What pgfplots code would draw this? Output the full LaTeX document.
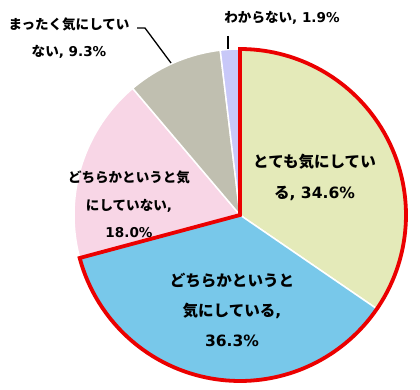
\documentclass[border=0pt]{standalone}
\usepackage{pgfplots}
\pgfplotsset{compat=1.18}
\usepackage{fontspec}
\setmainfont{Noto Sans CJK JP}
\newfontfamily\lat{DejaVu Sans}
\newcommand{\LT}[1]{{\lat\bfseries #1}}
\definecolor{cA}{RGB}{228,234,185}
\definecolor{cB}{RGB}{120,200,234}
\definecolor{cC}{RGB}{248,214,230}
\definecolor{cD}{RGB}{192,191,176}
\definecolor{cE}{RGB}{200,200,248}
\definecolor{redline}{RGB}{235,0,0}
% values (percent)
\def\va{34.6}\def\vb{36.3}\def\vc{18.0}\def\vd{9.3}\def\ve{1.9}
\pgfmathsetmacro\tot{\va+\vb+\vc+\vd+\ve}
\pgfmathsetmacro\aA{90}
\pgfmathsetmacro\aB{90-\va/\tot*360}
\pgfmathsetmacro\aC{90-(\va+\vb)/\tot*360}
\pgfmathsetmacro\aD{90-(\va+\vb+\vc)/\tot*360}
\pgfmathsetmacro\aE{90-(\va+\vb+\vc+\vd)/\tot*360}
\pgfmathsetmacro\aF{90-360}
\def\cx{240}\def\cy{175}\def\rr{166}
\begin{document}
\begin{tikzpicture}
\begin{axis}[
  width=420bp, height=390bp, scale only axis,
  xmin=0, xmax=420, ymin=0, ymax=390,
  hide axis, clip=false, at={(0,0)}, anchor=south west,
]
\addplot[fill=cA, draw=white, line width=1.5bp, domain=\aB:\aA, samples=80, variable=\t]
  ({\cx+\rr*cos(\t)},{\cy+\rr*sin(\t)}) -- (axis cs:\cx,\cy) -- cycle;
\addplot[fill=cB, draw=white, line width=1.5bp, domain=\aC:\aB, samples=80, variable=\t]
  ({\cx+\rr*cos(\t)},{\cy+\rr*sin(\t)}) -- (axis cs:\cx,\cy) -- cycle;
\addplot[fill=cC, draw=white, line width=1.5bp, domain=\aD:\aC, samples=50, variable=\t]
  ({\cx+\rr*cos(\t)},{\cy+\rr*sin(\t)}) -- (axis cs:\cx,\cy) -- cycle;
\addplot[fill=cD, draw=white, line width=1.5bp, domain=\aE:\aD, samples=30, variable=\t]
  ({\cx+\rr*cos(\t)},{\cy+\rr*sin(\t)}) -- (axis cs:\cx,\cy) -- cycle;
\addplot[fill=cE, draw=white, line width=1.5bp, domain=\aF:\aE, samples=10, variable=\t]
  ({\cx+\rr*cos(\t)},{\cy+\rr*sin(\t)}) -- (axis cs:\cx,\cy) -- cycle;
% red outline around first two slices
\addplot[draw=redline, line width=3.8bp, line join=miter, domain=\aC:\aA, samples=150, variable=\t]
  ({\cx+\rr*cos(\t)},{\cy+\rr*sin(\t)}) -- (axis cs:\cx,\cy) -- cycle;
% leader lines
\addplot[black, line width=1.3bp, no marks] coordinates {(137,362) (145,362) (171,327)};
\addplot[black, line width=1.3bp, no marks] coordinates {(228,354) (228,341)};
% labels
\node[align=center, inner sep=0, font=\fontsize{15.6}{31}\selectfont\bfseries] at (axis cs:314.5,212.5) {とても気にしてい\\る\LT{, 34.6\%}};
\node[align=center, inner sep=0, font=\fontsize{15.6}{30}\selectfont\bfseries] at (axis cs:232,80) {どちらかというと\\気にしている\LT{,}\\\LT{36.3\%}};
\node[align=center, inner sep=0, font=\fontsize{13.6}{27.5}\selectfont\bfseries] at (axis cs:129,185.5) {どちらかというと気\\にしていない\LT{,}\\\LT{18.0\%}};
\node[align=center, inner sep=0, font=\fontsize{13.6}{27}\selectfont\bfseries] at (axis cs:69,351.5) {まったく気にしてい\\ない\LT{, 9.3\%}};
\node[align=center, inner sep=0, font=\fontsize{13.6}{27}\selectfont\bfseries] at (axis cs:282,372) {わからない\LT{, 1.9\%}};
\end{axis}
\path (0,0) rectangle (420bp,390bp);
\end{tikzpicture}
\end{document}
